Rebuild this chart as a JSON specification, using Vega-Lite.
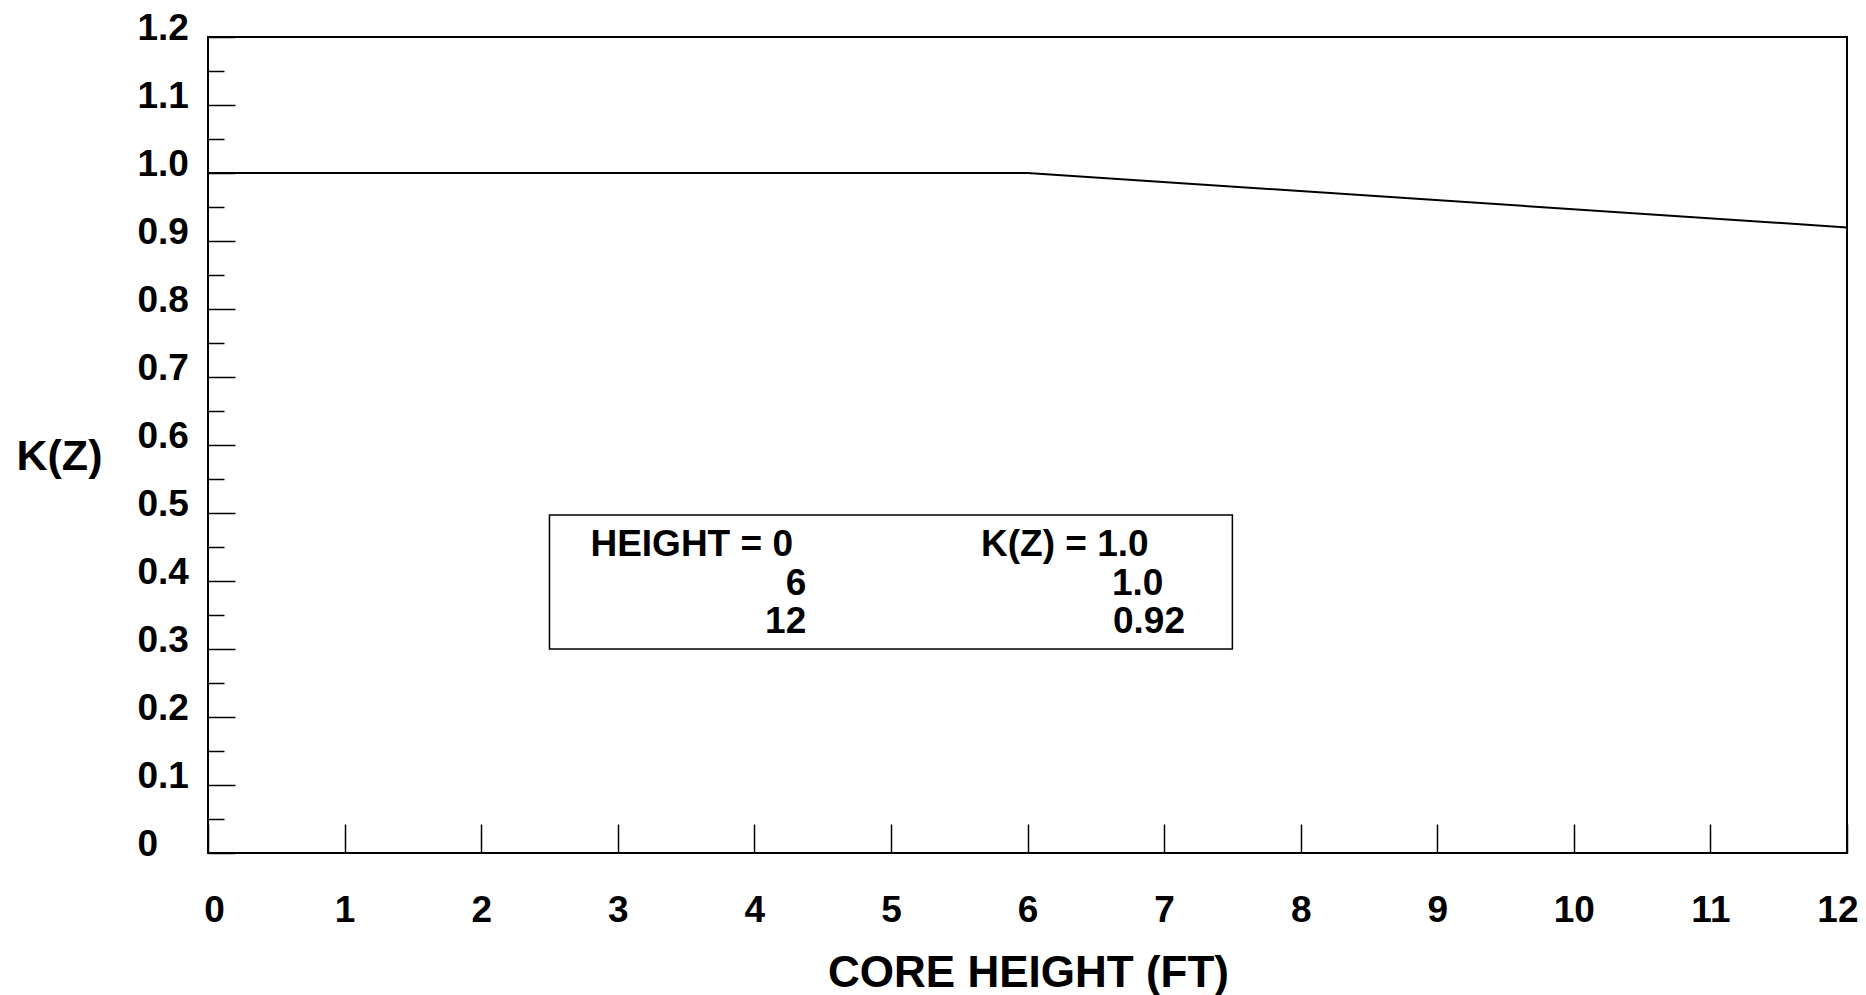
{
  "$schema": "https://vega.github.io/schema/vega-lite/v6.json",
  "width": 1639,
  "height": 816,
  "autosize": {"type": "none"},
  "padding": {"left": 208, "top": 37, "right": 19, "bottom": 142},
  "background": "white",
  "config": {
    "view": {"stroke": "#000", "strokeWidth": 2},
    "axis": {"grid": false, "domain": false, "tickColor": "#000", "tickWidth": 1.5, "labelColor": "#000", "titleColor": "#000", "labelFont": "Liberation Sans", "titleFont": "Liberation Sans", "labelFontWeight": "bold", "titleFontWeight": "bold"},
    "text": {"font": "Liberation Sans", "fontWeight": "bold", "fontSize": 37, "color": "#000"}
  },
  "datasets": {
    "curve": [
      {"height": 0, "kz": 1.0},
      {"height": 6, "kz": 1.0},
      {"height": 12, "kz": 0.92}
    ],
    "box": [{"x1": 2.5, "x2": 7.5, "y1": 0.30, "y2": 0.497}],
    "leftText": [
      {"x": 2.8, "y": 0.4375, "t": "HEIGHT = 0"},
      {"x": 5.66, "y": 0.4375, "t": "K(Z) = 1.0"}
    ],
    "rightText": [
      {"x": 4.38, "y": 0.3794, "t": "6"},
      {"x": 4.38, "y": 0.3235, "t": "12"},
      {"x": 6.995, "y": 0.3794, "t": "1.0"},
      {"x": 7.153, "y": 0.3235, "t": "0.92"}
    ]
  },
  "resolve": {"axis": {"y": "independent", "x": "independent"}},
  "layer": [
    {
      "data": {"name": "box"},
      "mark": {"type": "rect", "fill": "white", "stroke": "#000", "strokeWidth": 1.5},
      "encoding": {
        "x": {"field": "x1", "type": "quantitative", "scale": {"domain": [0, 12], "nice": false, "zero": false}, "axis": null},
        "x2": {"field": "x2"},
        "y": {"field": "y1", "type": "quantitative", "scale": {"domain": [0, 1.2], "nice": false, "zero": false},
          "axis": {"orient": "left", "values": [0.05, 0.15, 0.25, 0.35, 0.45, 0.55, 0.65, 0.75, 0.85, 0.95, 1.05, 1.15], "labels": false, "tickSize": -16, "title": null, "domain": false}},
        "y2": {"field": "y2"}
      }
    },
    {
      "data": {"name": "curve"},
      "mark": {"type": "line", "color": "#000", "strokeWidth": 2},
      "encoding": {
        "x": {"field": "height", "type": "quantitative", "scale": {"domain": [0, 12], "nice": false, "zero": false},
          "axis": {"orient": "bottom", "values": [0, 1, 2, 3, 4, 5, 6, 7, 8, 9, 10, 11, 12], "format": "d", "tickSize": -29, "labelPadding": 68, "labelFontSize": 37, "labelBaseline": "top",
            "labelAlign": {"condition": {"test": "datum.value == 12", "value": "right"}, "value": "center"},
            "labelOffset": {"condition": [{"test": "datum.value == 12", "value": 11}, {"test": "datum.value == 0", "value": 6}], "value": 0},
            "labelFlush": false, "title": "CORE HEIGHT (FT)", "titleFontSize": 44, "titleX": 820, "titleY": 133, "titleBaseline": "alphabetic", "titleAnchor": null, "titleAlign": "center"}},
        "y": {"field": "kz", "type": "quantitative", "scale": {"domain": [0, 1.2], "nice": false, "zero": false},
          "axis": {"orient": "left", "values": [0, 0.1, 0.2, 0.3, 0.4, 0.5, 0.6, 0.7, 0.8, 0.9, 1.0, 1.1, 1.2], "labelExpr": "datum.value == 0 ? '0' : format(datum.value, '.1f')", "tickSize": -27, "labelPadding": 98, "labelAlign": "left", "labelBaseline": "alphabetic", "labelOffset": 2, "labelFontSize": 37, "labelFlush": false, "title": "K(Z)", "titleAngle": 0, "titleFontSize": 43, "titleX": -192, "titleY": 419, "titleAlign": "left", "titleBaseline": "middle"}}
      }
    },
    {
      "data": {"name": "leftText"},
      "mark": {"type": "text", "align": "left", "baseline": "alphabetic"},
      "encoding": {
        "x": {"field": "x", "type": "quantitative", "axis": null},
        "y": {"field": "y", "type": "quantitative", "axis": null},
        "text": {"field": "t"}
      }
    },
    {
      "data": {"name": "rightText"},
      "mark": {"type": "text", "align": "right", "baseline": "alphabetic"},
      "encoding": {
        "x": {"field": "x", "type": "quantitative", "axis": null},
        "y": {"field": "y", "type": "quantitative", "axis": null},
        "text": {"field": "t"}
      }
    }
  ]
}
